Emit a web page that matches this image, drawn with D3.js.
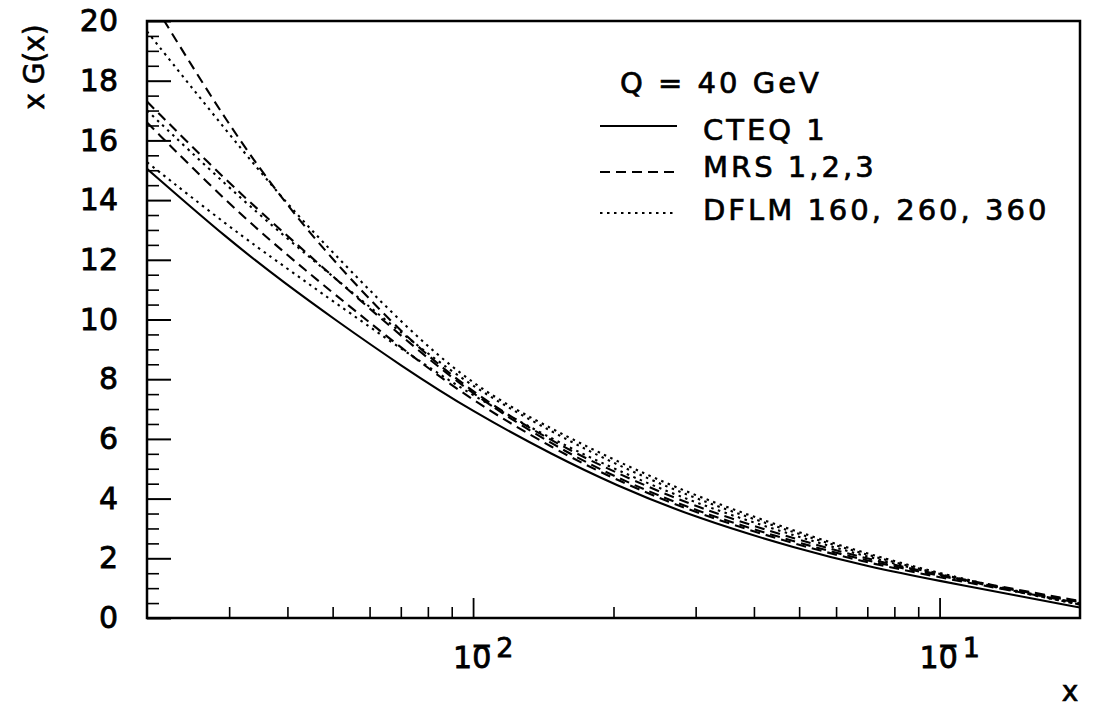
<!DOCTYPE html>
<html>
<head>
<meta charset="utf-8">
<script src="https://cdn.jsdelivr.net/npm/d3@7"></script>
<style>
body { margin: 0; background: #fff; }
svg { display: block; }
text { font-family: "DejaVu Sans", sans-serif; fill: #000; }
</style>
</head>
<body>
<div id="chart"></div>
<script>
// x values where the curves were read
const xValues = [0.002, 0.003, 0.004, 0.005, 0.007, 0.01, 0.015, 0.02, 0.03, 0.05, 0.07, 0.1, 0.15, 0.2];

// xG(x) at Q = 40 GeV
const cteq1   = [15.05, 12.65, 11.15, 10.05, 8.45, 6.9, 5.42, 4.48, 3.35, 2.3, 1.73, 1.24, 0.72, 0.35];
const mrs1    = [20.95, 16.45, 13.8, 12.0, 9.55, 7.5, 5.85, 4.9, 3.7, 2.6, 1.98, 1.44, 0.92, 0.57];
const mrs2    = [17.3, 14.55, 12.8, 11.45, 9.45, 7.45, 5.75, 4.74, 3.57, 2.5, 1.91, 1.41, 0.89, 0.53];
const mrs3    = [16.6, 13.85, 12.15, 10.9, 9.05, 7.25, 5.64, 4.66, 3.5, 2.43, 1.85, 1.36, 0.85, 0.5];
const dflm160 = [19.65, 16.2, 13.85, 12.25, 9.9, 7.75, 6.27, 5.3, 4.07, 2.86, 2.15, 1.49, 0.87, 0.47];
const dflm260 = [17.0, 14.4, 12.7, 11.45, 9.55, 7.7, 6.17, 5.18, 3.97, 2.8, 2.11, 1.46, 0.85, 0.45];
const dflm360 = [15.27, 13.1, 11.7, 10.62, 9.02, 7.42, 5.94, 5.0, 3.83, 2.7, 2.05, 1.44, 0.84, 0.45];

const yTicks = [0, 2, 4, 6, 8, 10, 12, 14, 16, 18, 20];
const xMajorTicks = [0.01, 0.1];
const xMajorExponents = ["2", "1"];
const xMinorTicks = [0.003, 0.004, 0.005, 0.006, 0.007, 0.008, 0.009,
                     0.02, 0.03, 0.04, 0.05, 0.06, 0.07, 0.08, 0.09];

const legendTitle = "Q = 40 GeV";
const legendLabels = ["CTEQ 1", "MRS 1,2,3", "DFLM 160, 260, 360"];

const width = 1094,
    height = 707,
    margin = {left: 147, top: 21, right: 14, bottom: 89},
    W = width - margin.left - margin.right,
    H = height - margin.top - margin.bottom;

const styles = {
    solid: null,
    dashed: "10,6",
    dotted: "2.5,4.5"
};

const series = [
    {values: cteq1, style: "solid"},
    {values: mrs1, style: "dashed"},
    {values: mrs2, style: "dashed"},
    {values: mrs3, style: "dashed"},
    {values: dflm160, style: "dotted"},
    {values: dflm260, style: "dotted"},
    {values: dflm360, style: "dotted"}
];

let svg = d3.select("#chart").append("svg")
    .attr("width", width)
    .attr("height", height);

let g = svg.append("g")
    .attr("transform", `translate(${margin.left},${margin.top})`);

let x = d3.scaleLog().domain([0.002, 0.2]).range([0, W]);
let y = d3.scaleLinear().domain([0, 20]).range([H, 0]);

svg.append("defs").append("clipPath").attr("id", "plot")
    .append("rect").attr("width", W).attr("height", H);

// curves (basis spline keeps the bend near 1e-2 round)
let line = d3.line()
    .x((d, i) => x(xValues[i]))
    .y(d => y(d))
    .curve(d3.curveBasis);

g.append("g").attr("clip-path", "url(#plot)")
    .selectAll("path")
    .data(series)
    .enter().append("path")
    .attr("d", d => line(d.values))
    .attr("fill", "none")
    .attr("stroke", "#000")
    .attr("stroke-width", 2.1)
    .attr("stroke-dasharray", d => styles[d.style]);

// y axis: major ticks with labels, minor ticks every 0.5
let yAxis = g.append("g")
    .call(d3.axisLeft(y).tickValues(yTicks).tickSize(-24).tickPadding(29).tickFormat(d3.format("d")));
yAxis.select(".domain").remove();
yAxis.selectAll("line").attr("stroke-width", 2);
yAxis.selectAll("text")
    .style("font-size", "30px")
    .attr("stroke", "#000").attr("stroke-width", 0.8);

let yMinor = d3.range(0.5, 20, 0.5).filter(v => v % 2 !== 0);
let yAxisMinor = g.append("g")
    .call(d3.axisLeft(y).tickValues(yMinor).tickSize(-12).tickFormat(""));
yAxisMinor.select(".domain").remove();
yAxisMinor.selectAll("line").attr("stroke-width", 1.6);

// x axis: ticks pointing inwards
let xAxis = g.append("g")
    .attr("transform", `translate(0,${H})`)
    .call(d3.axisBottom(x).tickValues(xMajorTicks).tickSize(-20).tickFormat(""));
xAxis.select(".domain").remove();
xAxis.selectAll("line").attr("stroke-width", 1.8);

let xAxisMinor = g.append("g")
    .attr("transform", `translate(0,${H})`)
    .call(d3.axisBottom(x).tickValues(xMinorTicks).tickSize(-11).tickFormat(""));
xAxisMinor.select(".domain").remove();
xAxisMinor.selectAll("line").attr("stroke-width", 1.6);

// 10^-n labels: the minus is an overline above the 0, exponent raised
let xLabels = g.append("g")
    .selectAll("text")
    .data(xMajorTicks)
    .enter().append("text")
    .attr("x", d => x(d) - 20)
    .attr("y", H + 50)
    .style("font-size", "30px")
    .attr("stroke", "#000").attr("stroke-width", 0.8);

xLabels.append("tspan").text("10");
xLabels.append("tspan")
    .attr("dx", -17)
    .style("font-size", "30px")
    .text("\u203E");
xLabels.append("tspan")
    .attr("dx", 7).attr("dy", -11)
    .style("font-size", "27px")
    .text((d, i) => xMajorExponents[i]);

// frame
g.append("rect")
    .attr("width", W).attr("height", H)
    .attr("fill", "none")
    .attr("stroke", "#000")
    .attr("stroke-width", 2.5);

// axis titles
svg.append("text")
    .attr("transform", "translate(44,67) rotate(-90)")
    .attr("text-anchor", "middle")
    .style("font-size", "28px")
    .attr("stroke", "#000").attr("stroke-width", 0.7)
    .text("x G(x)");

svg.append("text")
    .attr("x", 1070).attr("y", 701)
    .attr("text-anchor", "middle")
    .style("font-size", "28px")
    .attr("stroke", "#000").attr("stroke-width", 0.7)
    .text("x");

// legend
let legend = svg.append("g");

legend.append("text")
    .attr("x", 620).attr("y", 93)
    .style("font-size", "29px")
    .style("letter-spacing", "3px")
    .attr("stroke", "#000").attr("stroke-width", 0.7)
    .text(legendTitle);

const legendStyles = ["solid", "dashed", "dotted"];
const legendRows = [140, 177, 220];
const legendLineY = [126, 172, 213];

legendLabels.forEach((lab, i) => {
    legend.append("line")
        .attr("x1", 600).attr("x2", 677)
        .attr("y1", legendLineY[i]).attr("y2", legendLineY[i])
        .attr("stroke", "#000")
        .attr("stroke-width", 2)
        .attr("stroke-dasharray", styles[legendStyles[i]]);
    legend.append("text")
        .attr("x", 703).attr("y", legendRows[i])
        .style("font-size", "29px")
        .style("letter-spacing", "3px")
        .attr("stroke", "#000").attr("stroke-width", 0.7)
        .text(lab);
});
</script>
</body>
</html>
